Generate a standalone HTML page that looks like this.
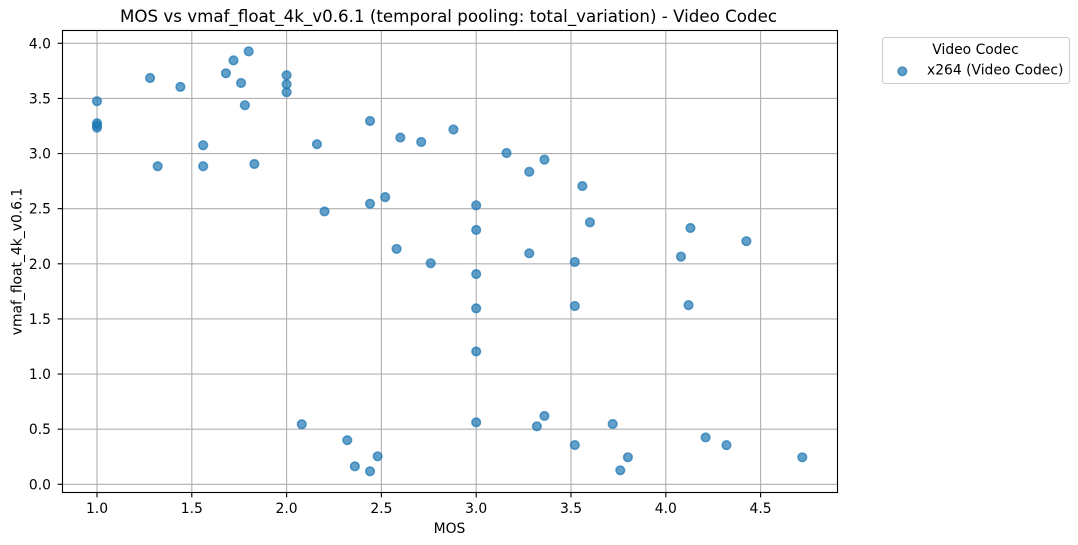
<!DOCTYPE html>
<html lang="en">
<head>
<meta charset="utf-8">
<title>MOS vs vmaf_float_4k_v0.6.1</title>
<style>
html,body{margin:0;padding:0;background:#fff;}
#chart{display:block;width:1078px;height:545px;font-family:"DejaVu Sans",sans-serif;fill:#000;}
</style>
</head>
<body>
<svg id="chart" xmlns="http://www.w3.org/2000/svg" width="1078" height="545" viewBox="0 0 1078 545">
  <rect x="0" y="0" width="1078" height="545" fill="#ffffff"/>
  <g id="grid"></g>
  <g id="points"></g>
  <rect x="62.5" y="30.5" width="775" height="462" fill="none" stroke="#000" stroke-width="1.11"/>
  <g id="ticks"></g>
  <text x="448.5" y="22" text-anchor="middle" font-size="16.67" textLength="657" lengthAdjust="spacing">MOS vs vmaf_float_4k_v0.6.1 (temporal pooling: total_variation) - Video Codec</text>
  <text x="449.5" y="533" text-anchor="middle" font-size="13.89">MOS</text>
  <text transform="translate(21.5,261.5) rotate(-90)" text-anchor="middle" font-size="13.89">vmaf_float_4k_v0.6.1</text>
  <g>
    <rect x="882.5" y="37.5" width="187" height="46" rx="2.5" ry="2.5" fill="#fff" stroke="#cccccc" stroke-width="1.11"/>
    <text x="975.5" y="54" text-anchor="middle" font-size="13.89">Video Codec</text>
    <circle cx="902.3" cy="71.3" r="4.3" fill="#1f77b4" fill-opacity="0.7" stroke="#1f77b4" stroke-opacity="0.7" stroke-width="1.6"/>
    <text x="927" y="74.5" font-size="13.89">x264 (Video Codec)</text>
  </g>
</svg>
<script>
const mosValues = [1,1,1,1,1.28,1.44,1.68,1.72,1.8,1.76,1.78,2,2,2,1.56,1.32,1.56,1.83,2.16,2.44,2.6,2.71,2.88,3.16,3.28,3.36,3.56,3.6,2.52,2.44,2.2,2.58,2.76,3,3,3,3,3,3,3.28,3.52,3.52,4.08,4.13,4.425,4.12,2.08,2.32,2.36,2.44,2.48,3.36,3.32,3.52,3.72,3.76,3.8,4.21,4.32,4.72];
const vmafValues = [3.475,3.275,3.255,3.235,3.685,3.605,3.728,3.845,3.927,3.64,3.438,3.71,3.628,3.556,3.075,2.885,2.885,2.905,3.085,3.295,3.145,3.105,3.218,3.005,2.835,2.945,2.705,2.376,2.605,2.545,2.475,2.135,2.005,2.53,2.307,1.907,1.596,1.205,0.562,2.095,2.016,1.617,2.065,2.325,2.205,1.625,0.545,0.4,0.163,0.118,0.254,0.62,0.526,0.356,0.547,0.127,0.245,0.425,0.355,0.245];
const xTickLabels = ['1.0','1.5','2.0','2.5','3.0','3.5','4.0','4.5'];
const yTickLabels = ['0.0','0.5','1.0','1.5','2.0','2.5','3.0','3.5','4.0'];

const NS = 'http://www.w3.org/2000/svg';
const xScale = function (v) { return 97 + (v - 1) * 189.6; };
const yScale = function (v) { return 484.3 - v * 110.25; };
const plot = { left: 62.5, right: 837.5, top: 30.5, bottom: 492.5 };
const gridGroup = document.getElementById('grid');
const tickGroup = document.getElementById('ticks');
const pointGroup = document.getElementById('points');

function line(parent, x1, y1, x2, y2, color) {
  const el = document.createElementNS(NS, 'line');
  el.setAttribute('x1', x1);
  el.setAttribute('y1', y1);
  el.setAttribute('x2', x2);
  el.setAttribute('y2', y2);
  el.setAttribute('stroke', color);
  el.setAttribute('stroke-width', '1.11');
  parent.appendChild(el);
  return el;
}

function label(x, y, anchor, content) {
  const el = document.createElementNS(NS, 'text');
  el.setAttribute('x', x);
  el.setAttribute('y', y);
  el.setAttribute('text-anchor', anchor);
  el.setAttribute('font-size', '13.89');
  el.textContent = content;
  tickGroup.appendChild(el);
  return el;
}

xTickLabels.forEach(function (t) {
  const px = xScale(parseFloat(t));
  const g = line(gridGroup, px, plot.top, px, plot.bottom, '#b0b0b0');
  
  
  const m = line(tickGroup, px, plot.bottom, px, plot.bottom + 4.86, '#000');
  
  
  const l = label(px, 513, 'middle', t);
  
  
});

yTickLabels.forEach(function (t) {
  const py = yScale(parseFloat(t));
  const g = line(gridGroup, plot.left, py, plot.right, py, '#b0b0b0');
  
  
  const m = line(tickGroup, plot.left - 4.86, py, plot.left, py, '#000');
  
  
  const l = label(51, py + 5, 'end', t);
  
  
});

mosValues.forEach(function (mos, i) {
  const c = document.createElementNS(NS, 'circle');
  
  
  c.setAttribute('cx', xScale(mos));
  c.setAttribute('cy', yScale(vmafValues[i]));
  c.setAttribute('r', '4.3');
  c.setAttribute('fill', '#1f77b4');
  c.setAttribute('fill-opacity', '0.7');
  c.setAttribute('stroke', '#1f77b4');
  c.setAttribute('stroke-opacity', '0.7');
  c.setAttribute('stroke-width', '1.6');
  pointGroup.appendChild(c);
});
</script>
</body>
</html>
